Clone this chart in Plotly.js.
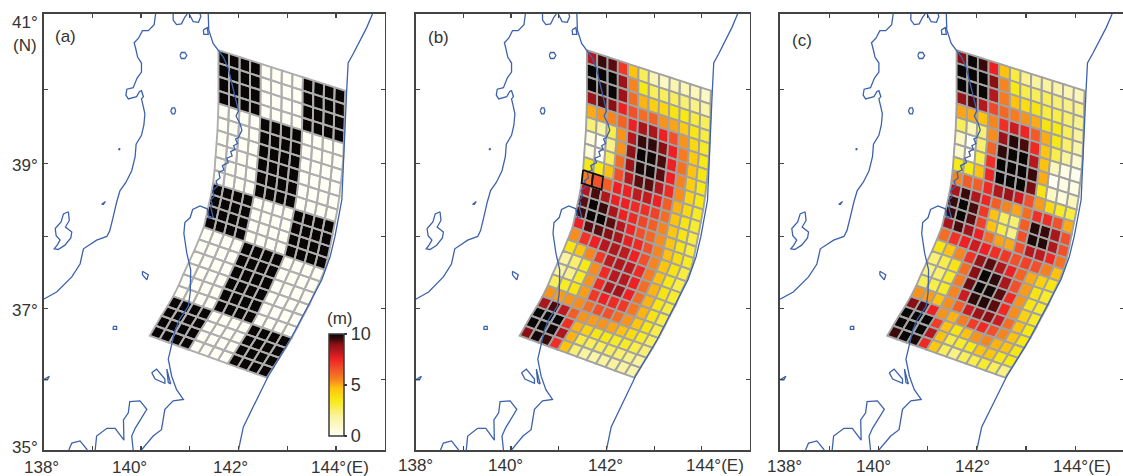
<!DOCTYPE html>
<html>
<head>
<meta charset="utf-8">
<script src="https://cdn.plot.ly/plotly-3.0.1.min.js"></script>
<style>html,body{margin:0;padding:0;background:#fff;overflow:hidden;width:1123px;height:476px}#c{width:1125px;height:476px}</style>
</head>
<body>
<div id="c"></div>
<script>
// Fault grid: west and east edge nodes of every along-strike row (lon, lat)
const gridWestLon=[141.59,141.59,141.59,141.59,141.59,141.58,141.57,141.55,141.53,141.51,141.48,141.44,141.39,141.34,141.29,141.19,141.09,140.98,140.87,140.77,140.66,140.54,140.42,140.30,140.18];
const gridWestLat=[40.52,40.35,40.17,39.98,39.81,39.63,39.45,39.27,39.09,38.91,38.73,38.58,38.43,38.28,38.13,37.96,37.80,37.64,37.48,37.32,37.17,37.03,36.90,36.76,36.62];
const gridEastLon=[144.19,144.18,144.18,144.17,144.16,144.15,144.13,144.10,144.07,144.03,143.98,143.93,143.88,143.83,143.77,143.67,143.56,143.45,143.33,143.21,143.09,142.97,142.84,142.71,142.58];
const gridEastLat=[39.98,39.80,39.62,39.44,39.27,39.09,38.91,38.73,38.55,38.37,38.20,38.03,37.86,37.70,37.54,37.38,37.22,37.05,36.90,36.74,36.59,36.45,36.31,36.17,36.03];
const gridColumns=12;

// Slip (m) per cell, rows north to south, columns west to east
const slipA=[
[10,10,10,10,0,0,0,0,10,10,10,10],[10,10,10,10,0,0,0,0,10,10,10,10],[10,10,10,10,0,0,0,0,10,10,10,10],[10,10,10,10,0,0,0,0,10,10,10,10],
[0,0,0,0,10,10,10,10,0,0,0,0],[0,0,0,0,10,10,10,10,0,0,0,0],[0,0,0,0,10,10,10,10,0,0,0,0],[0,0,0,0,10,10,10,10,0,0,0,0],[0,0,0,0,10,10,10,10,0,0,0,0],[0,0,0,0,10,10,10,10,0,0,0,0],
[10,10,10,10,0,0,0,0,10,10,10,10],[10,10,10,10,0,0,0,0,10,10,10,10],[10,10,10,10,0,0,0,0,10,10,10,10],[10,10,10,10,0,0,0,0,10,10,10,10],
[0,0,0,0,10,10,10,10,0,0,0,0],[0,0,0,0,10,10,10,10,0,0,0,0],[0,0,0,0,10,10,10,10,0,0,0,0],[0,0,0,0,10,10,10,10,0,0,0,0],[0,0,0,0,10,10,10,10,0,0,0,0],[0,0,0,0,10,10,10,10,0,0,0,0],
[10,10,10,10,0,0,0,0,10,10,10,10],[10,10,10,10,0,0,0,0,10,10,10,10],[10,10,10,10,0,0,0,0,10,10,10,10],[10,10,10,10,0,0,0,0,10,10,10,10]];
const slipB=[
[8.3,9.5,9.3,7.1,4.7,2.7,1.5,1.1,1.5,1.5,1.3,1.1],
[10,10,10,8.7,5.5,3.5,2.7,2.7,2.7,2.4,2.2,1.7],
[10,9.8,10,8.7,6,4.9,4.3,4.1,3.7,3.5,3,2.7],
[8.7,9.4,9,7.6,6.6,6,6.2,5.3,5.1,4.5,3.6,3],
[5,5.3,5.5,6.2,7.6,8.5,8.5,7.6,6.6,5.3,4.1,3.3],
[2.4,1.9,2.9,5.3,8.3,9.5,9.6,9,7.6,5.7,4.5,3.5],
[.6,0,2.2,5.3,8.9,10,9.9,9.4,7.6,5.9,4.7,3.6],
[.6,0,2.7,6,8.7,9.8,9.9,9.3,7.6,5.5,4.3,3.5],
[3.5,3.5,4.7,6.6,8.3,9.3,9.3,8.3,7.4,5.4,4.1,3.5],
[5.7,6.6,6.3,7.6,7.6,8.2,8.1,7.6,6.3,4.9,4,3.3],
[8.3,9.4,8.4,7.6,7.6,7.4,7.3,6.9,6,4.6,3.7,3.2],
[9.3,10,9.5,8.5,7.6,7.4,6.8,6.3,5.5,4.6,3.7,3],
[9.5,10,10,9.3,8.3,7.5,6.6,6.1,5.4,4.6,3.7,3],
[7.6,9.3,9.3,9,8.5,7.7,7.4,6.6,5.5,4.7,3.9,3.3],
[5.4,7.2,7.6,8.3,8.4,8.2,7.6,6.6,5.5,4.6,3.7,3],
[3.7,4.7,5.5,7.1,8.2,8.4,8.2,7.4,5.7,4.7,3.5,2.9],
[1.9,2.5,3.5,5.4,7.4,8.3,8.3,7.6,6,4.9,3.7,3.2],
[1.9,2.2,3.3,5.3,7.4,8.4,8.6,7.6,6,4.9,3.6,3],
[2.7,3.3,3.6,5.2,7.1,7.6,7.4,7.1,5.8,4.9,3.7,3],
[5.3,5.2,5.3,5.4,6,6.6,6.6,6,5.3,4.6,3.6,2.9],
[8.5,9.4,8.2,6.3,5.3,5.2,5.3,5.1,4.7,3.9,3.3,2.7],
[10,10,10,7.3,4.9,4.2,3.6,3.5,3.3,3.3,2.9,2.4],
[10,10,9.9,8.4,4.9,3,2.7,2.7,2.7,2.5,2.2,1.9],
[9,9.9,9.5,7.3,4.6,2.4,1.9,1.7,1.9,1.9,1.9,1.7]];
const slipC=[
[9,10,9.5,7.6,4.7,3,2.1,1.9,1.9,1.7,1.5,1.3],
[10,10,10,9,5.5,3.5,2.9,2.7,2.7,2.4,2.2,2.1],
[10,10,10,8.3,5.7,4.7,3.9,3.7,3,2.9,2.5,2.1],
[8.8,9.4,8.3,6.8,6.1,5.7,5.3,5,3.7,3.5,2.7,1.9],
[5.1,5,4.7,5.5,7.3,8,7.5,6.4,5,3.5,2.5,1.7],
[2.7,1.5,2.4,5.4,8.7,9.7,9.4,7.4,4.6,2.9,1.9,.8],
[1.1,0,2.5,6.2,9.6,10,10,8.3,4.7,1.3,.4,.2],
[1,0,2.9,7.3,10,10,10,9.5,5,0,.4,.4],
[3.5,3.5,4.7,7.5,10,10,10,9.1,3.7,1.1,.6,1.3],
[5.5,6.3,6.3,7.4,8.4,8.7,8,6.6,5.2,4,3.3,3],
[8.5,9.5,8.4,7.5,6.3,5.5,5.1,6,7.3,7.3,6.6,5],
[9.5,10,9.4,7.1,4.7,2.7,2.5,6.3,9.7,9.5,8.5,6.6],
[9.5,10,9.3,6.9,4.7,3,2.2,6.6,9.8,9.7,8.4,6.6],
[8.5,9.4,8.6,7.6,6,5.1,5,6.6,8.3,8.2,7.4,5.9],
[6,7.2,7.6,8,7.6,7.3,7.1,6.6,6.9,6.6,5.6,4.7],
[3.7,4.7,5.5,7.2,8.8,9.3,8.4,7.6,6.2,5,4.2,3.6],
[2.4,2.9,3.7,6,9,10,9.6,8.5,6.6,5.2,3.7,3.2],
[2.2,2.5,3.3,5.7,9.2,10,9.9,9.3,7.4,5.3,3.6,3.2],
[2.7,2.9,3.3,5.5,8,9.6,9.7,9.3,7.4,5.4,4.2,3.3],
[5.3,5.2,4.7,5.4,6.3,8,8.7,9,8,6,4.7,3.5],
[9,9.4,7.6,5.3,4.9,5.7,7,7.4,6.6,5.5,4.7,3.6],
[10,10,10,7,4.7,3.7,4.7,5.3,5.5,4.9,4.7,3.6],
[10,10,10,8.3,4.7,3,3.2,3.5,4.6,4.6,3.6,3.5],
[9.5,10,9.8,7.4,4.5,2.7,2.2,2.7,2.9,3.2,2.7,2.2]];
const highlightedCells=[[9,0],[9,1]]; // row, column in panel (b)

// Map lines as [lon, lat] lists
const seaOfJapanCoast=[[140.30,41],[140.27,40.86],[140.15,40.78],[140.03,40.78],[139.95,40.68],[139.86,40.62],[139.90,40.52],[139.93,40.43],[140.01,40.35],[140.01,40.23],[139.92,40.15],[139.84,40.02],[139.71,40.0],[139.69,39.92],[139.74,39.87],[139.91,39.90],[139.97,39.97],[140.01,39.98],[140.05,39.90],[140.01,39.87],[140.05,39.76],[140.08,39.67],[140.06,39.52],[140.01,39.38],[139.90,39.26],[139.88,39.09],[139.81,38.90],[139.69,38.74],[139.57,38.63],[139.50,38.47],[139.43,38.27],[139.36,38.08],[139.30,38.0],[139.09,37.95],[138.82,37.83],[138.75,37.62],[138.58,37.44],[138.27,37.23],[138,37.13]];
const mutsuBayA=[[140.66,41],[140.66,40.92],[140.73,40.86],[140.83,40.87],[140.90,40.96],[140.95,41]];
const mutsuBayB=[[140.99,41],[141.07,40.90],[141.18,40.89],[141.23,40.97],[141.21,41]];
const pacificCoast=[[141.38,41],[141.39,40.79],[141.48,40.61],[141.59,40.52],[141.69,40.43],[141.79,40.28],[141.86,40.10],[141.96,39.85],[142.0,39.71],[141.95,39.64],[142.03,39.54],[142.07,39.45],[142.0,39.35],[141.94,39.33],[141.98,39.27],[141.90,39.24],[141.93,39.19],[141.84,39.16],[141.87,39.10],[141.76,39.07],[141.79,39.01],[141.67,38.97],[141.70,38.91],[141.60,38.88],[141.62,38.80],[141.54,38.76],[141.57,38.69],[141.47,38.63],[141.50,38.55],[141.43,38.50],[141.46,38.45],[141.43,38.40],[141.48,38.27],[141.40,38.25],[141.36,38.38],[141.21,38.42],[141.06,38.37],[141.01,38.26],[140.90,38.19],[140.88,38.04],[140.94,37.77],[141.02,37.54],[141.01,37.22],[140.97,37.03],[140.80,36.86],[140.70,36.70],[140.63,36.47],[140.56,36.29],[140.63,36.05],[140.73,35.86],[140.87,35.72],[140.66,35.70],[140.49,35.58],[140.42,35.29],[140.25,35.20],[140.01,35]];
const tokyoBayCoast=[[139.84,35],[139.81,35.2],[139.88,35.31],[140.12,35.58],[139.98,35.70],[139.77,35.69],[139.74,35.53],[139.64,35.43],[139.65,35.14],[139.47,35.31],[139.30,35.31],[139.09,35.2],[139.06,35]];
const izuCoast=[[138.90,35],[138.75,35.13],[138.58,35.10],[138.52,35]];
const sadoIsland=[[138.51,38.34],[138.41,38.31],[138.36,38.20],[138.24,38.11],[138.26,38.01],[138.34,37.95],[138.28,37.88],[138.22,37.83],[138.30,37.82],[138.44,37.88],[138.56,37.98],[138.58,38.06],[138.45,38.13],[138.53,38.22],[138.51,38.34]];
const lakeTowada=[[140.80,40.45],[140.83,40.49],[140.90,40.49],[140.94,40.45],[140.90,40.41],[140.83,40.41],[140.80,40.45]];
const lakeTazawa=[[140.61,39.71],[140.64,39.75],[140.69,39.75],[140.71,39.71],[140.69,39.67],[140.64,39.67],[140.61,39.71]];
const tobishima=[[139.54,39.20],[139.57,39.20],[139.55,39.18],[139.54,39.20]];
const awashima=[[139.19,38.44],[139.27,38.48],[139.23,38.44],[139.19,38.44]];
const lakeInawashiro=[[140.03,37.52],[140.15,37.47],[140.12,37.40],[140.03,37.47],[140.03,37.52]];
const lakeChuzenji=[[139.43,36.75],[139.50,36.75],[139.50,36.71],[139.43,36.71],[139.43,36.75]];
const lakeSuwa=[[138.0,36.0],[138.12,36.05],[138.08,36.0],[138.0,36.0]];
const kasumigaura=[[140.22,36.10],[140.32,36.15],[140.49,36.01],[140.49,35.95],[140.29,36.01],[140.22,36.10]];
const kitaura=[[140.53,36.15],[140.61,35.94],[140.56,35.96],[140.53,36.15]];
const mutsuLake=[[141.28,40.79],[141.36,40.82],[141.38,40.73],[141.29,40.73],[141.28,40.79]];
const trenchAxis=[[144.75,41],[144.63,40.82],[144.36,40.48],[144.25,40.35],[144.22,39.98],[144.19,39.58],[144.15,38.95],[144.12,38.50],[143.98,38.0],[143.88,37.72],[143.71,37.40],[143.40,36.99],[143.06,36.56],[142.61,36.05],[142.37,35.71],[142.10,35.33],[142,35]];
const mapLines=[seaOfJapanCoast,mutsuBayA,mutsuBayB,pacificCoast,tokyoBayCoast,izuCoast,sadoIsland,lakeTowada,lakeTazawa,tobishima,awashima,lakeInawashiro,lakeChuzenji,lakeSuwa,kasumigaura,kitaura,mutsuLake,trenchAxis];

// Colour scale of the slip bar
const scaleStops=[[0,'#fffff5'],[.19,'#f9f3a0'],[.35,'#f7e914'],[.47,'#ffc20e'],[.55,'#f7851f'],[.66,'#f1502a'],[.76,'#ee2024'],[.83,'#b5191f'],[.90,'#8a1014'],[.95,'#3a0a0b'],[1,'#0a0606']];
const slipMax=10;
const latTicks=[35,36,37,38,39,40,41];
const lonTicks=[138,139,140,141,142,143,144,145];

// Mercator northing used for the latitude axis
const merc=lat=>Math.log(Math.tan(Math.PI/4+lat*Math.PI/360))*180/Math.PI;
function hex(c){return [1,3,5].map(i=>parseInt(c.substr(i,2),16));}
function slipColor(v){
  const t=v/slipMax;
  for(let i=1;i<scaleStops.length;i++){
    if(t<=scaleStops[i][0]){
      const a=scaleStops[i-1],b=scaleStops[i],f=(t-a[0])/(b[0]-a[0]);
      const p=hex(a[1]),q=hex(b[1]);
      return 'rgb('+p.map((x,k)=>Math.round(x+(q[k]-x)*f)).join(',')+')';
    }
  }
  return scaleStops[scaleStops.length-1][1];
}
function node(r,c){
  const f=c/gridColumns;
  return [gridWestLon[r]+(gridEastLon[r]-gridWestLon[r])*f, gridWestLat[r]+(gridEastLat[r]-gridWestLat[r])*f];
}
function cellRing(r,c){return [node(r,c),node(r,c+1),node(r+1,c+1),node(r+1,c),node(r,c)];}

const traces=[];
function panel(slip,ax,ay,lineCol){
  const groups={};
  slip.forEach((row,r)=>row.forEach((v,c)=>{
    (groups[v]=groups[v]||[]).push([r,c]);
  }));
  Object.keys(groups).forEach(v=>{
    const xs=[],ys=[];
    groups[v].forEach(([r,c])=>{
      cellRing(r,c).forEach(p=>{xs.push(p[0]);ys.push(merc(p[1]));});
      xs.push(null);ys.push(null);
    });
    traces.push({type:'scatter',mode:'lines',x:xs,y:ys,xaxis:ax,yaxis:ay,fill:'toself',fillcolor:slipColor(+v),
      line:{color:lineCol,width:1.9},hoverinfo:'skip',showlegend:false});
  });
}
function coast(ax,ay){
  const xs=[],ys=[];
  mapLines.forEach(l=>{l.forEach(p=>{xs.push(p[0]);ys.push(merc(p[1]));});xs.push(null);ys.push(null);});
  traces.push({type:'scatter',mode:'lines',x:xs,y:ys,xaxis:ax,yaxis:ay,line:{color:'#3d62ad',width:1.3},hoverinfo:'skip',showlegend:false});
}
panel(slipA,'x','y','#aeaeae'); coast('x','y');
panel(slipB,'x2','y2','#a2a2a2'); coast('x2','y2');
const hx=[],hy=[];
highlightedCells.forEach(([r,c])=>{cellRing(r,c).forEach(p=>{hx.push(p[0]);hy.push(merc(p[1]));});hx.push(null);hy.push(null);});
traces.push({type:'scatter',mode:'lines',x:hx,y:hy,xaxis:'x2',yaxis:'y2',line:{color:'#111',width:1.8},hoverinfo:'skip',showlegend:false});
panel(slipC,'x3','y3','#a2a2a2'); coast('x3','y3');

// Colour bar carrier
traces.push({type:'scatter',mode:'markers',x:[138,138],y:[merc(35),merc(35)],xaxis:'x',yaxis:'y',hoverinfo:'skip',showlegend:false,
  marker:{size:1,opacity:0,color:[0,slipMax],cmin:0,cmax:slipMax,colorscale:scaleStops,showscale:true,
    colorbar:{x:329.3/1125,xanchor:'left',y:40/476,yanchor:'bottom',thicknessmode:'pixels',thickness:15,lenmode:'pixels',len:102,xpad:0,ypad:0,
      outlinecolor:'#3a3a3a',outlinewidth:1.5,ticks:'outside',ticklen:3,tickwidth:1.2,tickcolor:'#3a3a3a',tickvals:[0,5,10],ticktext:['0','5','10'],
      tickfont:{family:'Liberation Sans',size:18,color:'#333'}}}});

const W=1125,H=476;
const blank=latTicks.map(()=>'');
function xaxis(l,r,anchor){return {domain:[l/W,r/W],range:[138,145],anchor:anchor,tickvals:lonTicks,ticktext:lonTicks.map(()=>''),ticks:'inside',ticklen:4,tickwidth:1.2,tickcolor:'#444',mirror:'allticks',showline:true,linecolor:'#444',linewidth:1.6,showgrid:false,zeroline:false};}
function yaxis(anchor){return {domain:[26/H,462/H],range:[merc(35),merc(41)],anchor:anchor,tickvals:latTicks.map(merc),ticktext:blank,ticks:'inside',ticklen:4,tickwidth:1.2,tickcolor:'#444',mirror:'allticks',showline:true,linecolor:'#444',linewidth:1.6,showgrid:false,zeroline:false};}
const font={family:'Liberation Sans',size:17,color:'#333'};
const pxY=p=>1-p/H;
function xLabel(axis,lon,text,shift,py){return {xref:axis,x:lon,xshift:shift,yref:'paper',y:pxY(py),yanchor:'middle',xanchor:'center',text:text,showarrow:false,font:font};}
function pLabel(px,py,text,anchor){return {xref:'paper',x:px/W,yref:'paper',y:pxY(py),xanchor:anchor||'center',yanchor:'middle',text:text,showarrow:false,font:font};}
const annotations=[
 xLabel('x',138,'138°',-2,467),xLabel('x',140,'140°',-11,467),xLabel('x',142,'142°',-8,467),xLabel('x',144,'144°(E)',4,467),
 xLabel('x2',138,'138°',0,465),xLabel('x2',140,'140°',-6,465),xLabel('x2',142,'142°',-1,465),xLabel('x2',144,'144°(E)',13,465),
 xLabel('x3',138,'138°',4,466),xLabel('x3',140,'140°',-5,466),xLabel('x3',142,'142°',-4,466),xLabel('x3',144,'144°(E)',7,466),
 pLabel(40,22,'41°','right'),pLabel(39,45,'(N)','right'),pLabel(40,165,'39°','right'),pLabel(40,310,'37°','right'),pLabel(40,447,'35°','right'),
 pLabel(65,37,'(a)'),pLabel(438,38,'(b)'),pLabel(802,40,'(c)'),
 pLabel(339,318,'(m)')
];
const layout={width:W,height:H,margin:{l:0,r:0,t:0,b:0},paper_bgcolor:'#fff',plot_bgcolor:'#fff',showlegend:false,
  xaxis:xaxis(43.5,384.7,'y'),yaxis:yaxis('x'),
  xaxis2:xaxis(415.7,749.5,'y2'),yaxis2:yaxis('x2'),
  xaxis3:xaxis(780,1124.4,'y3'),yaxis3:yaxis('x3'),
  annotations:annotations};
Plotly.newPlot('c',traces,layout,{displayModeBar:false,staticPlot:true});
</script>
</body>
</html>
